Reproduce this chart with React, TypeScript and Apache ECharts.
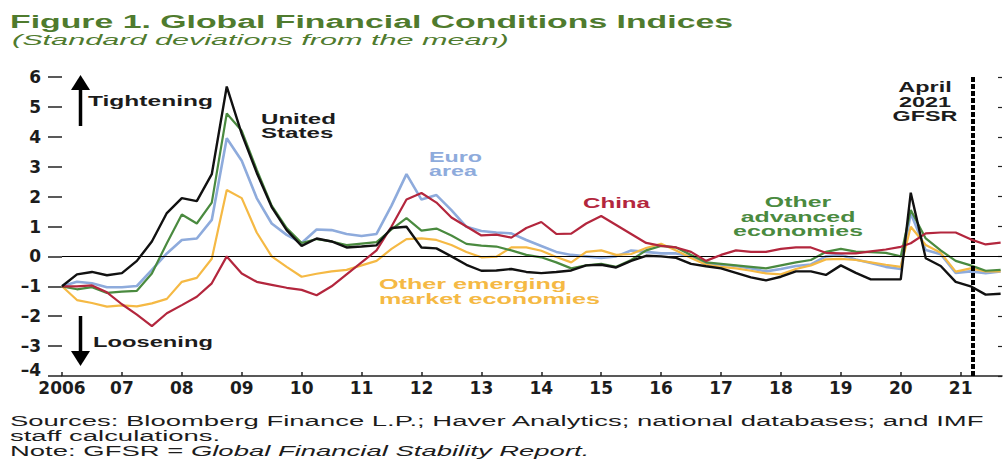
import React, { useEffect, useRef } from "react";
import * as echarts from "echarts";

// ---------- data (standard deviations from the mean) ----------
const dates = [
  2006, 2006.25, 2006.5, 2006.75,
  2007, 2007.25, 2007.5, 2007.75,
  2008, 2008.25, 2008.5, 2008.75,
  2009, 2009.25, 2009.5, 2009.75,
  2010, 2010.25, 2010.5, 2010.75,
  2011, 2011.25, 2011.5, 2011.75,
  2012, 2012.25, 2012.5, 2012.75,
  2013, 2013.25, 2013.5, 2013.75,
  2014, 2014.25, 2014.5, 2014.75,
  2015, 2015.25, 2015.5, 2015.75,
  2016, 2016.25, 2016.5, 2016.75,
  2017, 2017.25, 2017.5, 2017.75,
  2018, 2018.25, 2018.5, 2018.75,
  2019, 2019.25, 2019.5, 2019.75,
  2020, 2020.167, 2020.417, 2020.667, 2020.917,
  2021.167, 2021.417, 2021.667,
];

const unitedStates = [
  -1.0, -0.6, -0.52, -0.63, -0.56, -0.15, 0.5, 1.45, 1.95, 1.85, 2.75, 5.68,
  4.1, 2.8, 1.65, 0.88, 0.35, 0.6, 0.5, 0.3, 0.33, 0.37,
  0.95, 0.99, 0.3, 0.27, 0.0, -0.28, -0.48, -0.47, -0.42, -0.52,
  -0.56, -0.52, -0.47, -0.3, -0.28, -0.37, -0.15, 0.02, 0.0, -0.05,
  -0.25, -0.33, -0.4, -0.55, -0.7, -0.8, -0.68, -0.5, -0.5, -0.62,
  -0.3, -0.55, -0.77, -0.77, -0.77, 2.13, -0.06, -0.32, -0.85, -1.0, -1.28, -1.25,
];

const otherAdvanced = [
  -1.0, -1.1, -1.03, -1.22, -1.18, -1.15, -0.57, 0.44, 1.4, 1.1, 1.8, 4.78,
  4.2, 2.9, 1.7, 0.95, 0.45, 0.58, 0.5, 0.38, 0.43, 0.48,
  0.9, 1.28, 0.86, 0.93, 0.7, 0.42, 0.36, 0.33, 0.2, 0.05,
  -0.03, -0.2, -0.4, -0.3, -0.25, -0.35, -0.12, 0.2, 0.35, 0.3,
  0.05, -0.2, -0.25, -0.3, -0.35, -0.4, -0.3, -0.2, -0.12, 0.15,
  0.25, 0.16, 0.14, 0.12, 0.0, 1.55, 0.6, 0.2, -0.15, -0.3, -0.48, -0.45,
];

const euroArea = [
  -1.0, -0.85, -0.9, -1.03, -1.03, -0.99, -0.45, 0.1, 0.55, 0.6, 1.22, 3.95,
  3.2, 1.95, 1.1, 0.72, 0.45, 0.9, 0.88, 0.75, 0.68, 0.75,
  1.7, 2.75, 1.9, 2.05, 1.55, 0.99, 0.85, 0.8, 0.77, 0.55,
  0.35, 0.15, 0.05, 0.0, -0.05, 0.0, 0.2, 0.15, 0.1, 0.1,
  0.0, -0.22, -0.28, -0.32, -0.4, -0.5, -0.42, -0.32, -0.27, 0.0,
  0.05, -0.1, -0.22, -0.35, -0.42, 1.44, 0.21, 0.07, -0.55, -0.5, -0.56, -0.5,
];

const otherEmerging = [
  -1.0, -1.46, -1.56, -1.68, -1.64, -1.67, -1.57, -1.42, -0.85, -0.72, -0.08, 2.22,
  1.95, 0.8, 0.0, -0.35, -0.68, -0.58, -0.5, -0.45, -0.3, -0.15,
  0.25, 0.58, 0.6, 0.55, 0.38, 0.15, -0.03, -0.01, 0.3, 0.3,
  0.19, -0.02, -0.2, 0.15, 0.2, 0.05, 0.08, 0.28, 0.42, 0.2,
  -0.05, -0.28, -0.35, -0.4, -0.48, -0.57, -0.6, -0.42, -0.3, -0.1,
  -0.08, -0.12, -0.2, -0.28, -0.35, 0.99, 0.38, 0.12, -0.51, -0.4, -0.5, -0.5,
];

const china = [
  -1.0, -1.0, -0.97, -1.2, -1.6, -1.95, -2.33, -1.9, -1.63, -1.35, -0.9, 0.0,
  -0.57, -0.85, -0.95, -1.05, -1.12, -1.3, -1.0, -0.6, -0.2, 0.2,
  1.0, 1.9, 2.12, 1.8, 1.3, 1.0, 0.7, 0.73, 0.63, 0.95,
  1.15, 0.75, 0.76, 1.1, 1.35, 1.05, 0.75, 0.45, 0.35, 0.3,
  0.15, -0.15, 0.05, 0.2, 0.15, 0.15, 0.25, 0.3, 0.3, 0.12,
  0.1, 0.1, 0.17, 0.23, 0.32, 0.44, 0.77, 0.8, 0.8, 0.57, 0.4, 0.46,
];

const xTickLabels = ["2006", "07", "08", "09", "10", "11", "12", "13", "14", "15", "16", "17", "18", "19", "20", "21"];
const yTickLabels = ["\u20134", "\u20133", "\u20132", "\u20131", "0", "1", "2", "3", "4", "5", "6"];
const gfsrDate = 2021.2;

// ---------- helpers ----------
const FONT = "Liberation Sans";
function measureWidth(text: string, font: string): number {
  const c = document.createElement("canvas");
  const ctx = c.getContext("2d");
  if (!ctx) return 1;
  ctx.font = font;
  return Math.max(...text.split("\n").map((l) => ctx.measureText(l).width));
}

type TOpts = {
  size: number;
  bold?: boolean;
  italic?: boolean;
  color: string;
  align?: "left" | "center" | "right";
  lh?: number;
};

function stretchedText(text: string, x: number, cy: number, targetW: number, o: TOpts, fixedScale?: number) {
  const weight = o.bold ? "bold" : "normal";
  const style = o.italic ? "italic" : "normal";
  const w = measureWidth(text, `${style} ${weight} ${o.size}px "${FONT}"`);
  const sx = fixedScale ?? targetW / w;
  return {
    type: "text",
    x,
    y: cy,
    scaleX: sx,
    scaleY: 1,
    z: 100,
    silent: true,
    style: {
      text,
      fill: o.color,
      fontSize: o.size,
      fontWeight: weight,
      fontStyle: style,
      fontFamily: FONT,
      align: o.align ?? "left",
      textAlign: o.align ?? "left",
      verticalAlign: "middle",
      textVerticalAlign: "middle",
      lineHeight: o.lh ?? o.size,
    },
  };
}

const C_US = "#111111";
const C_EURO = "#8eabdc";
const C_ADV = "#4a8a3f";
const C_EM = "#f5b944";
const C_CHINA = "#b3263d";
const C_TITLE = "#4f7b2e";
const C_TEXT = "#1c1c1c";

export default function App() {
  const ref = useRef<HTMLDivElement>(null);

  useEffect(() => {
    document.body.style.margin = "0";
    if (!ref.current) return;
    const chart = echarts.init(ref.current, null, { renderer: "svg" });

    const footScale = 975 / measureWidth(
      "Sources: Bloomberg Finance L.P.; Haver Analytics; national databases; and IMF",
      `normal normal 14px "${FONT}"`
    );

    const mk = (name: string, vals: number[], color: string, z: number, extra: any = {}) => ({
      name,
      type: "line",
      data: dates.map((d, i) => [d, vals[i]]),
      showSymbol: false,
      symbol: "none",
      clip: true,
      silent: true,
      z,
      lineStyle: { color, width: 2.2 },
      itemStyle: { color },
      ...extra,
    });

    const axisFont = { fontFamily: "DejaVu Sans", fontWeight: "bold", fontSize: 17, color: C_TEXT };

    const option: any = {
      animation: false,
      backgroundColor: "#ffffff",
      grid: { left: 62, right: 2, top: 77, bottom: 84, containLabel: false },
      xAxis: {
        type: "value",
        min: 2006,
        max: 2021.69,
        interval: 1,
        axisLine: { show: true, onZero: false, lineStyle: { color: "#222", width: 1.5 } },
        axisTick: { show: true, inside: true, length: 4, lineStyle: { color: "#222", width: 1.5 } },
        axisLabel: {
          ...axisFont,
          margin: 3,
          showMaxLabel: false,
          formatter: (v: number) => {
            if (Math.abs(v - Math.round(v)) > 1e-6) return "";
            return xTickLabels[Math.round(v) - 2006] ?? "";
          },
        },
        splitLine: { show: false },
      },
      yAxis: [
        {
          type: "value",
          min: -4,
          max: 6,
          interval: 1,
          axisLine: { show: false, onZero: false },
          axisTick: { show: true, inside: false, length: 14, lineStyle: { color: "#222", width: 1.5 } },
          axisLabel: {
            ...axisFont,
            margin: 21,
            formatter: (v: number) => {
              const idx = Math.round(v) + 4;
              const t = yTickLabels[idx] ?? "";
              return idx === 0 ? `{lo|${t}}` : t;
            },
            rich: {
              lo: { ...axisFont, padding: [0, 0, 12, 0] },
            },
          },
          splitLine: { show: false },
        },
        {
          type: "value",
          position: "right",
          min: -4,
          max: 6,
          interval: 1,
          axisLine: { show: false, onZero: false },
          axisTick: { show: true, inside: true, length: 4, lineStyle: { color: "#222", width: 1.2 } },
          axisLabel: { show: false },
          splitLine: { show: false },
        },
      ],
      series: [
        mk("Euro area", euroArea, C_EURO, 2, {
          lineStyle: { color: C_EURO, width: 2.6 },
          markLine: {
            silent: true,
            symbol: ["none", "none"],
            label: { show: false },
            lineStyle: { color: "#000", width: 1, type: "solid" },
            data: [{ yAxis: 0 }],
          },
        }),
        mk("Other emerging market economies", otherEmerging, C_EM, 3),
        mk("Other advanced economies", otherAdvanced, C_ADV, 4),
        mk("China", china, C_CHINA, 5),
        mk("United States", unitedStates, C_US, 6, {
          lineStyle: { color: C_US, width: 2.4 },
          markLine: {
            silent: true,
            symbol: ["none", "none"],
            label: { show: false },
            lineStyle: { color: "#000", width: 4, type: [5, 2] },
            data: [{ xAxis: gfsrDate }],
          },
        }),
      ],
      graphic: [
        stretchedText("Figure 1. Global Financial Conditions Indices", 10, 21.5, 723, { size: 18, bold: true, color: C_TITLE }),
        stretchedText("(Standard deviations from the mean)", 12, 40, 497, { size: 14, italic: true, color: C_TITLE }),
        // arrows
        { type: "line", silent: true, shape: { x1: 80.5, y1: 88, x2: 80.5, y2: 126 }, style: { stroke: "#000", lineWidth: 3.5 } },
        { type: "polygon", silent: true, shape: { points: [[80.5, 75], [71, 90], [90, 90]] }, style: { fill: "#000" } },
        { type: "line", silent: true, shape: { x1: 80.5, y1: 316, x2: 80.5, y2: 353 }, style: { stroke: "#000", lineWidth: 3.5 } },
        { type: "polygon", silent: true, shape: { points: [[71, 351], [90, 351], [80.5, 366]] }, style: { fill: "#000" } },
        stretchedText("Tightening", 88, 101, 125, { size: 15, bold: true, color: C_TEXT }),
        stretchedText("Loosening", 93, 342, 120, { size: 15, bold: true, color: C_TEXT }),
        // series labels
        stretchedText("United\nStates", 261, 126, 75, { size: 15, bold: true, color: C_TEXT, lh: 14 }),
        stretchedText("Euro\narea", 429, 164, 53, { size: 15, bold: true, color: C_EURO, lh: 14 }),
        stretchedText("China", 583, 203, 67, { size: 15, bold: true, color: C_CHINA }),
        stretchedText("Other\nadvanced\neconomies", 798, 216.5, 130, { size: 15, bold: true, color: C_ADV, align: "center", lh: 14.5 }),
        stretchedText("Other emerging\nmarket economies", 379, 291.5, 221, { size: 15, bold: true, color: C_EM, lh: 15 }),
        stretchedText("April\n2021\nGFSR", 925, 101.5, 65, { size: 15, bold: true, color: C_TEXT, align: "center", lh: 14.5 }),
        // footnotes
        stretchedText("Sources: Bloomberg Finance L.P.; Haver Analytics; national databases; and IMF", 10, 421, 975, { size: 14, color: C_TEXT }, footScale),
        stretchedText("staff calculations.", 10, 436, 0, { size: 14, color: C_TEXT }, footScale),
        {
          type: "text",
          x: 10,
          y: 451,
          scaleX: footScale,
          scaleY: 1,
          z: 100,
          silent: true,
          style: {
            text: "{a|Note: GFSR = }{b|Global Financial Stability Report.}",
            fill: C_TEXT,
            fontSize: 14,
            fontFamily: FONT,
            align: "left",
            verticalAlign: "middle",
            rich: {
              a: { fontSize: 14, fontFamily: FONT, fontStyle: "normal", fill: C_TEXT, color: C_TEXT },
              b: { fontSize: 14, fontFamily: FONT, fontStyle: "italic", fill: C_TEXT, color: C_TEXT },
            },
          },
        },
      ],
    };

    chart.setOption(option);
    return () => chart.dispose();
  }, []);

  return (
    <div
      ref={ref}
      style={{ position: "absolute", left: 0, top: 0, width: 1004, height: 460, background: "#fff" }}
    />
  );
}
